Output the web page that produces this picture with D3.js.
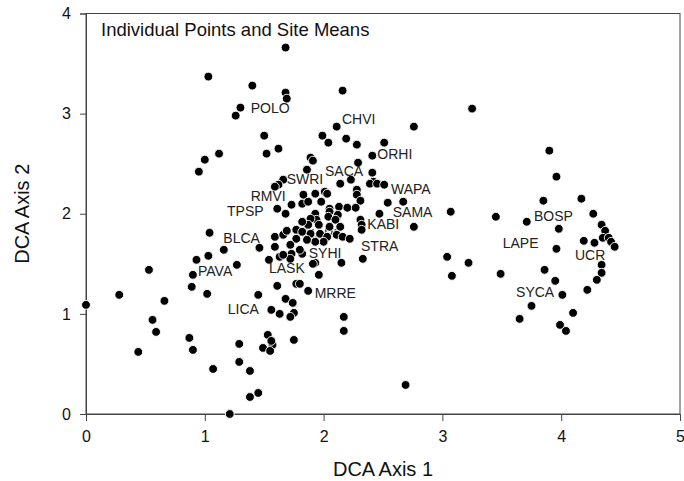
<!DOCTYPE html>
<html><head><meta charset="utf-8">
<script src="https://cdn.jsdelivr.net/npm/d3@7"></script>
<style>
html,body{margin:0;padding:0;background:#fff;}
svg text{font-family:"Liberation Sans",Arial,sans-serif;}
</style></head>
<body>
<svg id="chart" width="684" height="481"></svg>
<script>
// ---- data (DCA Axis 1, DCA Axis 2) ----
const upperPoints = [
  [1.68,3.66],[1.03,3.37],[1.40,3.28],[1.68,3.21],[1.69,3.15],[1.30,3.06],[1.26,2.98],
  [1.50,2.78],[1.62,2.65],[1.12,2.60],[1.52,2.60],[1.00,2.54],[0.95,2.42],
  [2.16,3.23],[3.25,3.05],[2.11,2.87],[2.76,2.87],[1.99,2.78],[2.04,2.71],[2.19,2.75],
  [2.28,2.69],[2.51,2.71],[2.41,2.58],[1.89,2.56],[1.91,2.53],[2.29,2.51],[1.86,2.44],
  [2.41,2.41],[2.14,2.30],[2.23,2.34],[2.42,2.32],[2.39,2.30],[2.45,2.30],[2.51,2.29],
  [2.28,2.24],[2.28,2.19],[2.31,2.13],[1.66,2.34],[1.62,2.29],[1.59,2.27],
  [2.54,2.11],[2.67,2.12],[2.47,2.00],[2.76,1.87],[2.31,1.94],[2.32,1.89],[2.32,1.84]
];
const centerPoints = [
  [1.83,2.19],[1.93,2.20],[2.01,2.22],[2.03,2.20],[1.82,2.10],[1.87,2.12],[1.98,2.12],
  [2.05,2.05],[2.13,2.07],[2.20,2.06],[2.27,2.06],[1.73,2.09],[1.61,2.05],[1.68,2.00],
  [1.93,2.00],[2.05,2.02],[1.94,1.94],[2.04,1.97],[2.11,1.96],[2.12,1.99],[1.89,1.95],
  [2.10,1.94],[2.14,1.87],[2.05,1.87],[1.96,1.89],[1.87,1.89],[1.82,1.92],[1.77,1.84],
  [1.82,1.82],[1.89,1.80],[1.97,1.80],[2.03,1.77],[2.11,1.79],[2.16,1.77],[2.22,1.75],
  [2.00,1.72],[1.93,1.72],[1.86,1.74],[1.77,1.75],[1.59,1.77],[1.66,1.79],[1.69,1.83],
  [1.59,1.67],[1.72,1.69],[1.73,1.60],[1.82,1.60],[1.63,1.57],[1.72,1.55],[1.46,1.66],
  [1.93,1.51],[1.66,1.59],[1.80,1.64],[1.54,1.54],[2.33,1.55],[2.15,1.51],[1.96,1.39],
  [1.91,1.50]
];
const lowerLeftPoints = [
  [1.04,1.81],[1.16,1.64],[0.93,1.54],[1.03,1.58],[0.53,1.44],[1.27,1.49],[0.90,1.39],
  [0.89,1.27],[1.61,1.28],[1.77,1.30],[1.80,1.30],[1.87,1.23],[0.28,1.19],[0.00,1.09],
  [1.02,1.20],[1.45,1.19],[0.66,1.13],[1.68,1.15],[1.74,1.11],[1.56,1.04],[1.63,1.00],
  [1.75,1.01],[1.72,0.97],[0.56,0.94],[0.59,0.82],[0.87,0.76],[0.90,0.64],[0.44,0.62],
  [1.29,0.70],[1.53,0.79],[1.57,0.69],[1.49,0.66],[1.55,0.63],[1.56,0.73],[1.75,0.74],
  [1.29,0.52],[1.07,0.45],[1.38,0.43],[1.45,0.21],[1.38,0.17],[1.21,0.00],[2.17,0.97],
  [2.17,0.83],[2.69,0.29]
];
const rightPoints = [
  [3.90,2.63],[3.96,2.37],[3.85,2.13],[4.17,2.15],[3.07,2.02],[3.45,1.97],[3.71,1.92],
  [4.27,2.00],[4.34,1.89],[4.37,1.83],[3.98,1.85],[4.35,1.76],[4.40,1.76],[4.19,1.73],
  [4.28,1.71],[4.42,1.72],[4.45,1.67],[3.96,1.65],[4.34,1.49],[4.34,1.41],[4.30,1.34],
  [3.86,1.44],[3.95,1.33],[3.04,1.57],[3.22,1.51],[3.08,1.38],[3.49,1.40],[4.22,1.24],
  [4.01,1.19],[3.75,1.08],[4.10,1.01],[3.65,0.95],[3.99,0.89],[4.04,0.83]
];
// site mean labels: [name, axis1, axis2]
const siteLabels = [
  ["POLO",1.386,3.004],["CHVI",2.155,2.894],["ORHI",2.452,2.545],["SWRI",1.689,2.302],
  ["SACA",2.012,2.375],["WAPA",2.567,2.196],["SAMA",2.582,1.963],["KABI",2.368,1.846],
  ["STRA",2.315,1.630],["SYHI",1.875,1.554],["LASK",1.540,1.404],["RMVI",1.386,2.126],
  ["TPSP",1.187,1.973],["BLCA",1.156,1.704],["PAVA",0.943,1.377],["LICA",1.193,0.998],
  ["MRRE",1.925,1.161],["BOSP",3.771,1.923],["LAPE",3.508,1.654],["UCR",4.116,1.537],
  ["SYCA",3.620,1.165]
];
const hiddenLabels = [["MAPL",1.827,1.747]];
const xTicks = [0,1,2,3,4,5];
const yTicks = [0,1,2,3,4];
const title = "Individual Points and Site Means";
const xTitle = "DCA Axis 1";
const yTitle = "DCA Axis 2";

// ---- drawing ----
const svg = d3.select("#chart");
const x = d3.scaleLinear().domain([0,5]).range([86,680]);
const y = d3.scaleLinear().domain([0,4]).range([414,13.5]);
const axisColor = "#444";

// frame
svg.append("rect").attr("x",x(0)).attr("y",y(4)).attr("width",x(5)-x(0)).attr("height",y(0)-y(4))
  .attr("fill","none").attr("stroke",axisColor).attr("stroke-width",1);

const xAxis = svg.append("g").attr("transform",`translate(0,${y(0)})`)
  .call(d3.axisBottom(x).tickValues(xTicks).tickFormat(d3.format("d")).tickSizeOuter(0).tickSize(7).tickPadding(10));
const yAxis = svg.append("g").attr("transform",`translate(${x(0)},0)`)
  .call(d3.axisLeft(y).tickValues(yTicks).tickFormat(d3.format("d")).tickSizeOuter(0).tickSize(6).tickPadding(9));
[xAxis,yAxis].forEach(g=>{
  g.select(".domain").attr("stroke",axisColor);
  g.selectAll(".tick line").attr("stroke",axisColor);
  g.selectAll(".tick text").attr("fill","#111").style("font-size","16px").style("font-family","'Liberation Sans',Arial,sans-serif");
});

// labels drawn below points (hidden one)
svg.append("g").selectAll("text").data(hiddenLabels).join("text")
  .attr("x",d=>x(d[1])).attr("y",d=>y(d[2])).text(d=>d[0])
  .attr("font-size",14).attr("fill","#222");

// points
const allPoints = upperPoints.concat(centerPoints, lowerLeftPoints, rightPoints);
svg.append("g").selectAll("circle").data(allPoints).join("circle")
  .attr("cx",d=>x(d[0])).attr("cy",d=>y(d[1])).attr("r",4.4)
  .attr("fill","#000").attr("stroke","#fff").attr("stroke-width",0.9);

// site labels
svg.append("g").selectAll("text").data(siteLabels).join("text")
  .attr("x",d=>x(d[1])).attr("y",d=>y(d[2])).text(d=>d[0])
  .attr("font-size",14).attr("fill","#222");

// titles
svg.append("text").attr("x",101).attr("y",36).text(title).attr("font-size",18.5).attr("fill","#111");
svg.append("text").attr("x",(x(0)+x(5))/2).attr("y",476).attr("text-anchor","middle")
  .text(xTitle).attr("font-size",20).attr("fill","#111");
svg.append("text").attr("transform",`translate(29,${(y(0)+y(4))/2}) rotate(-90)`).attr("text-anchor","middle")
  .text(yTitle).attr("font-size",20).attr("fill","#111");
</script>
</body></html>
